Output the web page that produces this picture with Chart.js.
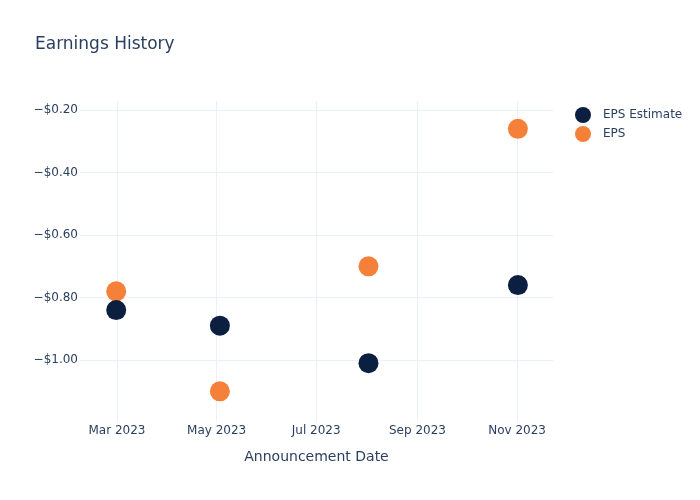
<!DOCTYPE html>
<html>
<head>
<meta charset="utf-8">
<title>Earnings History</title>
<script src="https://cdn.jsdelivr.net/npm/chart.js@4.4.0/dist/chart.umd.min.js"></script>
<style>
  html, body { margin: 0; padding: 0; background: #fff; }
  #wrap { width: 700px; height: 500px; }
</style>
</head>
<body>
<div id="wrap"><canvas id="epsChart" width="700" height="500"></canvas></div>
<script>
const announceDates = [Date.UTC(2023, 1, 28, 12), Date.UTC(2023, 4, 3), Date.UTC(2023, 7, 2), Date.UTC(2023, 10, 1, 12)];
const epsEstimate = [-0.84, -0.89, -1.01, -0.76];
const epsActual = [-0.78, -1.10, -0.70, -0.26];
const xTickDates = [Date.UTC(2023, 2, 1), Date.UTC(2023, 4, 1), Date.UTC(2023, 6, 1), Date.UTC(2023, 8, 1), Date.UTC(2023, 10, 1)];
const xTickLabels = ["Mar 2023", "May 2023", "Jul 2023", "Sep 2023", "Nov 2023"];
const yTicks = [-1.0, -0.8, -0.6, -0.4, -0.2];
const xRange = [Date.UTC(2023, 1, 6, 8), Date.UTC(2023, 10, 23)];
const yRange = [-1.195, -0.171];

const textColor = "#2a3f5f";
const gridColor = "#ebf0f8";
const fontFamily = "'DejaVu Sans', Verdana, sans-serif";

function fmtMoney(v) {
  const s = "$" + Math.abs(v).toFixed(2);
  return v < 0 ? "\u2212" + s : s;
}

// title + legend drawn like plotly's layout
const decorations = {
  id: "decorations",
  afterDraw(chart) {
    const ctx = chart.ctx;
    ctx.save();
    ctx.fillStyle = textColor;
    ctx.font = "17px " + fontFamily;
    ctx.textAlign = "left";
    ctx.textBaseline = "middle";
    ctx.fillText("Earnings History", 35, 45);

    ctx.font = "12px " + fontFamily;
    chart.data.datasets.forEach((ds, i) => {
      const y = 115 + i * 19;
      ctx.beginPath();
      ctx.arc(583, y, 8, 0, Math.PI * 2);
      ctx.fillStyle = ds.backgroundColor;
      ctx.fill();
      ctx.fillStyle = textColor;
      ctx.fillText(ds.label, 603, y);
    });
    ctx.restore();
  }
};

const ctx = document.getElementById("epsChart").getContext("2d");
new Chart(ctx, {
  type: "scatter",
  data: {
    datasets: [
      {
        label: "EPS Estimate",
        data: announceDates.map((d, i) => ({ x: d, y: epsEstimate[i] })),
        backgroundColor: "#0b1f40",
        borderWidth: 0,
        pointRadius: 10,
        pointHoverRadius: 10
      },
      {
        label: "EPS",
        data: announceDates.map((d, i) => ({ x: d, y: epsActual[i] })),
        backgroundColor: "#f5803a",
        borderWidth: 0,
        pointRadius: 10,
        pointHoverRadius: 10
      }
    ]
  },
  options: {
    responsive: false,
    animation: false,
    layout: { padding: { left: 0, right: 147, top: 101, bottom: 0 } },
    plugins: {
      legend: { display: false },
      title: { display: false },
      tooltip: { enabled: false }
    },
    scales: {
      x: {
        type: "linear",
        min: xRange[0],
        max: xRange[1],
        afterBuildTicks: axis => { axis.ticks = xTickDates.map(v => ({ value: v })); },
        afterFit: axis => { axis.height = 79; },
        border: { display: false },
        grid: { color: gridColor, drawTicks: false },
        ticks: {
          color: textColor,
          padding: 3,
          maxRotation: 0,
          font: { family: fontFamily, size: 12 },
          callback: v => xTickLabels[xTickDates.indexOf(v)]
        },
        title: {
          display: true,
          text: "Announcement Date",
          color: textColor,
          font: { family: fontFamily, size: 14 },
          padding: { top: 0, bottom: 34 }
        }
      },
      y: {
        min: yRange[0],
        max: yRange[1],
        afterBuildTicks: axis => { axis.ticks = yTicks.map(v => ({ value: v })); },
        afterFit: axis => { axis.width = 80; },
        border: { display: false },
        grid: { color: gridColor, drawTicks: false },
        ticks: {
          color: textColor,
          padding: 2,
          font: { family: fontFamily, size: 12 },
          callback: v => fmtMoney(v)
        }
      }
    }
  },
  plugins: [decorations]
});
</script>
</body>
</html>
